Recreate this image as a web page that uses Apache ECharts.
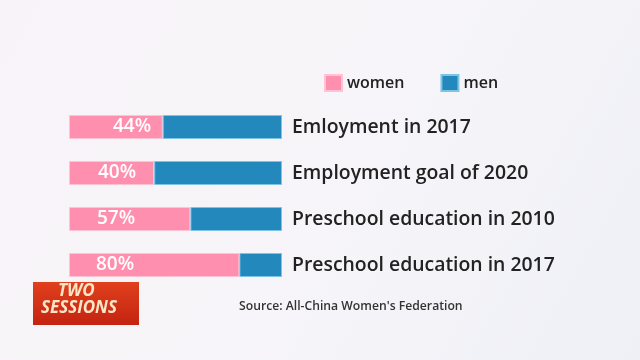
<!DOCTYPE html>
<html><head><meta charset="utf-8">
<script src="https://cdn.jsdelivr.net/npm/echarts@6/dist/echarts.min.js"></script>
<style>html,body{margin:0;padding:0;}#c{width:640px;height:360px;}</style>
</head><body><div id="c"></div>
<script>
var categories = ["Emloyment in 2017", "Employment goal of 2020", "Preschool education in 2010", "Preschool education in 2017"];
var women = [44, 40, 57, 80];
var men = [56, 60, 43, 20];
var labelOffsets = [44, 29, 28, 27];

var chart = echarts.init(document.getElementById('c'));
var font = '"Open Sans", "Noto Sans", sans-serif';
chart.setOption({
  backgroundColor: new echarts.graphic.LinearGradient(0, 0, 1, 1, [
    {offset: 0, color: '#f8f3f8'},
    {offset: 0.5, color: '#f7f5f9'},
    {offset: 1, color: '#eef0f6'}
  ]),
  animation: false,
  legend: {
    data: ['women', 'men'],
    top: 74, left: 324, padding: 0,
    itemWidth: 17, itemHeight: 16, itemGap: 36,
    icon: 'rect',
    textStyle: {fontSize: 16, color: '#222', fontFamily: font, fontWeight: 600}
  },
  grid: {left: 69, right: 358, top: 104, bottom: 72},
  xAxis: {type: 'value', min: 0, max: 100, show: false},
  yAxis: {
    type: 'category', data: categories, inverse: true, position: 'right',
    axisLine: {show: false}, axisTick: {show: false},
    axisLabel: {align: 'left', margin: 10, fontSize: 19.4, color: '#222', fontFamily: font, fontWeight: 600}
  },
  series: [
    {
      name: 'women', type: 'bar', stack: 's', barWidth: 24,
      itemStyle: {color: '#ff8fae', borderColor: '#ffc3d3', borderWidth: 1},
      data: women.map(function (v, i) {
        return {value: v, label: {show: true, position: 'insideLeft', distance: labelOffsets[i],
          formatter: '{c}%', color: '#fff', fontSize: 19, fontFamily: font, fontWeight: 600}};
      })
    },
    {
      name: 'men', type: 'bar', stack: 's', barWidth: 24,
      itemStyle: {color: '#2389bd', borderColor: '#7cc4e6', borderWidth: 1},
      data: men
    }
  ],
  graphic: [
    {type: 'rect', left: 33, top: 282, shape: {width: 106, height: 43},
      style: {fill: new echarts.graphic.LinearGradient(0, 0, 0, 1, [
        {offset: 0, color: '#e0401c'}, {offset: 1, color: '#c42410'}])}},
    {type: 'text', left: 58, top: 283, style: {text: 'TWO', fontSize: 17, fontStyle: 'italic', fontWeight: 'bold', fill: '#fde6c8', fontFamily: font}},
    {type: 'text', left: 41, top: 300, style: {text: 'SESSIONS', fontSize: 17, fontStyle: 'italic', fontWeight: 'bold', fill: '#fde6c8', fontFamily: font}},
    {type: 'text', left: 239, top: 301, style: {text: "Source: All-China Women's Federation", fontSize: 12.2, fill: '#333', fontFamily: font, fontWeight: 600}}
  ]
});
</script></body></html>
